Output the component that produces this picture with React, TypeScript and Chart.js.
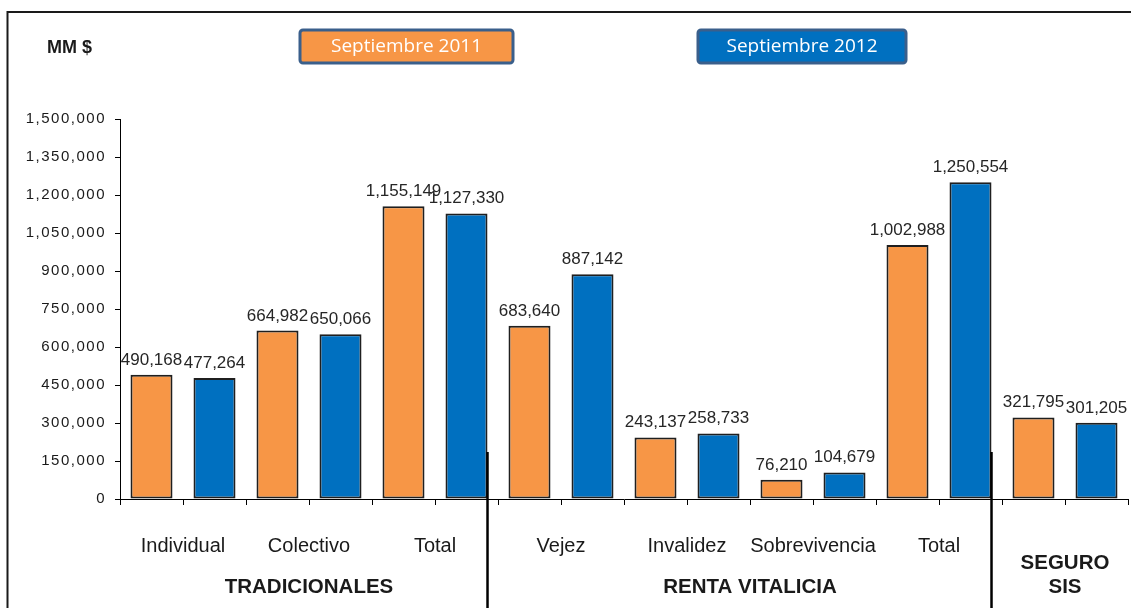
import { useEffect, useRef } from 'react';
import { Chart, registerables } from 'chart.js';

Chart.register(...registerables);

const unitLabel = 'MM $';
const seriesLabels = ['Septiembre 2011', 'Septiembre 2012'];
const seriesColors = ['#F79646', '#0070C0'];
const groupLabels = ['Individual', 'Colectivo', 'Total', 'Vejez', 'Invalidez', 'Sobrevivencia', 'Total', ''];
const sept2011 = [490168, 664982, 1155149, 683640, 243137, 76210, 1002988, 321795];
const sept2012 = [477264, 650066, 1127330, 887142, 258733, 104679, 1250554, 301205];
const sectionLabels: (string | string[])[] = ['TRADICIONALES', 'RENTA VITALICIA', ['SEGURO', 'SIS']];
const sectionSizes = [3, 4, 1];
const yMin = 0;
const yMax = 1500000;
const yStep = 150000;

const fmt = (v: number) => Math.round(v).toLocaleString('en-US');

export default function App() {
  const ref = useRef<HTMLCanvasElement>(null);

  useEffect(() => {
    const canvas = ref.current;
    if (!canvas) return;

    const categories: string[] = [];
    const d2011: (number | null)[] = [];
    const d2012: (number | null)[] = [];
    groupLabels.forEach((g, i) => {
      categories.push(g + ' 2011', g + ' 2012');
      d2011.push(sept2011[i], null);
      d2012.push(null, sept2012[i]);
    });

    const decor = {
      id: 'decor',
      beforeDraw(chart: any) {
        const ctx = chart.ctx as CanvasRenderingContext2D;
        ctx.save();
        ctx.fillStyle = '#fff';
        ctx.fillRect(0, 0, chart.width, chart.height);
        ctx.strokeStyle = '#1a1a1a';
        ctx.lineWidth = 2;
        ctx.beginPath();
        ctx.moveTo(7.5, chart.height);
        ctx.lineTo(7.5, 12);
        ctx.lineTo(chart.width, 12);
        ctx.stroke();
        ctx.restore();
        (ctx as any).letterSpacing = '1.5px';
      },
      beforeDatasetsDraw(chart: any) {
        (chart.ctx as any).letterSpacing = '0px';
      },
      afterDatasetsDraw(chart: any) {
        const ctx = chart.ctx as CanvasRenderingContext2D;
        const xs = chart.scales.x;
        ctx.save();
        (ctx as any).letterSpacing = '0px';
        // value labels
        ctx.font = '17px "Liberation Sans", Arial, sans-serif';
        ctx.fillStyle = '#262626';
        ctx.textAlign = 'center';
        ctx.textBaseline = 'alphabetic';
        chart.data.datasets.forEach((ds: any, di: number) => {
          const meta = chart.getDatasetMeta(di);
          ds.data.forEach((v: number | null, i: number) => {
            if (v == null) return;
            const el = meta.data[i];
            ctx.fillText(fmt(v), el.x, el.y - 10);
          });
        });

        // category labels
        ctx.font = '20px "Liberation Sans", Arial, sans-serif';
        ctx.fillStyle = '#1a1a1a';
        ctx.textBaseline = 'middle';
        groupLabels.forEach((g, i) => {
          if (!g) return;
          const x = (xs.getPixelForValue(2 * i) + xs.getPixelForValue(2 * i + 1)) / 2;
          ctx.fillText(g, x, 546);
        });

        // section labels
        ctx.font = 'bold 20.5px "Liberation Sans", Arial, sans-serif';
        let start = 0;
        const meta1 = chart.getDatasetMeta(1);
        sectionLabels.forEach((lab, si) => {
          const first = 2 * start;
          const last = 2 * (start + sectionSizes[si]) - 1;
          const x = (xs.getPixelForValue(first) + xs.getPixelForValue(last)) / 2;
          const lines = Array.isArray(lab) ? lab : [lab];
          lines.forEach((ln, li) => {
            ctx.fillText(ln, x, 587 - (lines.length - 1 - li) * 24);
          });
          if (si < sectionLabels.length - 1) {
            const el = meta1.data[last];
            const sx = el.x + el.width / 2;
            ctx.strokeStyle = '#000';
            ctx.lineWidth = 2.5;
            ctx.beginPath();
            ctx.moveTo(sx, 452);
            ctx.lineTo(sx, chart.height);
            ctx.stroke();
          }
          start += sectionSizes[si];
        });

        // unit label
        ctx.font = 'bold 18px "Liberation Sans", Arial, sans-serif';
        ctx.textAlign = 'left';
        ctx.fillStyle = '#1a1a1a';
        ctx.fillText(unitLabel, 47, 48);

        // legend boxes
        const boxes = [
          { x: 300, w: 213 },
          { x: 698, w: 208 },
        ];
        chart.data.datasets.forEach((ds: any, di: number) => {
          const b = boxes[di];
          ctx.beginPath();
          (ctx as any).roundRect(b.x, 30, b.w, 33, 3);
          ctx.fillStyle = ds.backgroundColor;
          ctx.fill();
          ctx.lineWidth = 3;
          ctx.strokeStyle = '#3A5F8B';
          ctx.stroke();
          ctx.fillStyle = '#fff';
          ctx.font = '19px "Open Sans", sans-serif';
          ctx.textAlign = 'center';
          ctx.textBaseline = 'middle';
          ctx.fillText(ds.label, b.x + b.w / 2, 47);
        });
        ctx.restore();
      },
    };

    const chart = new Chart(canvas, {
      type: 'bar',
      data: {
        labels: categories,
        datasets: [
          {
            label: seriesLabels[0],
            data: d2011,
            backgroundColor: seriesColors[0],
            borderColor: '#1f1f1f',
            borderWidth: 2,
            borderSkipped: false,
            grouped: false,
            barPercentage: 0.667,
            categoryPercentage: 1,
          },
          {
            label: seriesLabels[1],
            data: d2012,
            backgroundColor: seriesColors[1],
            borderColor: '#1f1f1f',
            borderWidth: 2,
            borderSkipped: false,
            grouped: false,
            barPercentage: 0.667,
            categoryPercentage: 1,
          },
        ],
      },
      options: {
        responsive: false,
        animation: false,
        devicePixelRatio: 1,
        layout: { padding: { left: 0, top: 119, right: 3, bottom: 0 } },
        plugins: {
          legend: { display: false },
          tooltip: { enabled: false },
        },
        scales: {
          x: {
            offset: true,
            ticks: { display: false },
            grid: {
              offset: true,
              drawOnChartArea: false,
              drawTicks: true,
              tickLength: 6,
              color: '#000',
            },
            border: { display: true, color: '#000', width: 1 },
            afterFit: (s: any) => {
              s.height = 109;
            },
          },
          y: {
            min: yMin,
            max: yMax,
            ticks: {
              stepSize: yStep,
              callback: (v: any) => fmt(Number(v)),
              font: { family: '"Liberation Sans", Arial, sans-serif', size: 15 },
              color: '#1a1a1a',
              padding: 9,
            },
            grid: {
              drawOnChartArea: false,
              drawTicks: true,
              tickLength: 5,
              color: '#000',
            },
            border: { display: true, color: '#000', width: 1 },
            afterFit: (s: any) => {
              s.width = 120;
            },
          },
        },
      },
      plugins: [decor],
    });

    return () => chart.destroy();
  }, []);

  return (
    <div style={{ position: 'fixed', left: 0, top: 0, width: 1131, height: 608, background: '#fff' }}>
      <canvas ref={ref} width={1131} height={608} style={{ display: 'block' }} />
    </div>
  );
}
